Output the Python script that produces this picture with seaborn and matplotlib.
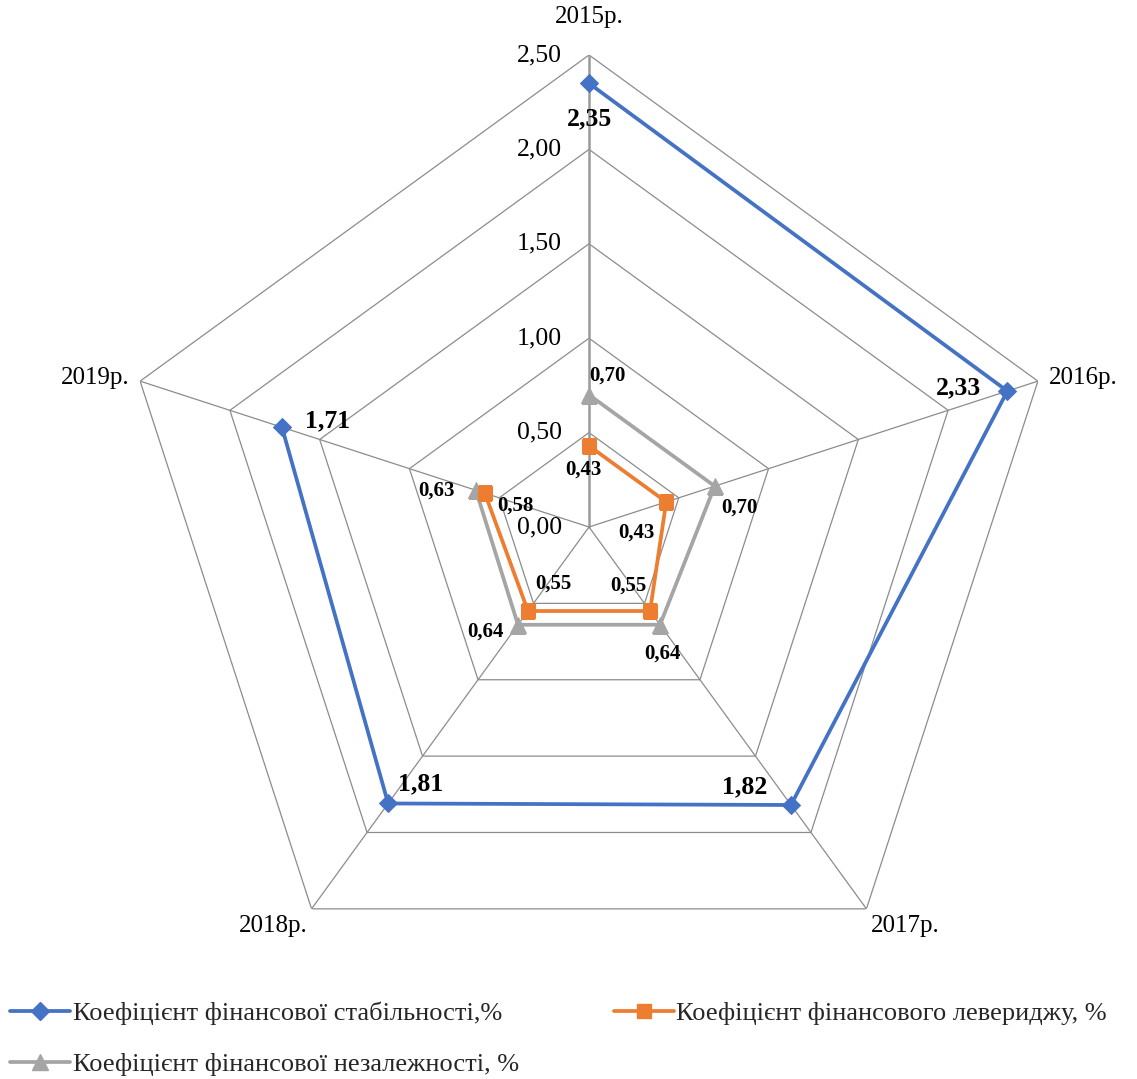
import numpy as np
import pandas as pd
import matplotlib
matplotlib.use("Agg")
import matplotlib.pyplot as plt
from matplotlib.lines import Line2D
import seaborn as sns

# ---- data -------------------------------------------------------------
years = ["2015р.", "2016р.", "2017р.", "2018р.", "2019р."]
stability = [2.35, 2.33, 1.82, 1.81, 1.71]
leverage = [0.43, 0.43, 0.55, 0.55, 0.58]
independence = [0.70, 0.70, 0.64, 0.64, 0.63]
series_names = [
    "Коефіцієнт фінансової стабільності,%",
    "Коефіцієнт фінансового левериджу, %",
    "Коефіцієнт фінансової незалежності, %",
]
r_ticks = [0.0, 0.5, 1.0, 1.5, 2.0, 2.5]
r_tick_labels = ["0,00", "0,50", "1,00", "1,50", "2,00", "2,50"]

sns.set_theme(style="white")
plt.rcParams["font.family"] = ["Liberation Serif", "DejaVu Serif"]

BLUE, ORANGE, GRAY = "#4472C4", "#ED7D31", "#A5A5A5"
GRID = "#8C8C8C"

fig = plt.figure(figsize=(11.37, 10.79), dpi=100)
ax = fig.add_axes([117 / 1137, 80 / 1079, 944 / 1137, 944 / 1079], projection="polar")
ax.set_theta_offset(np.pi / 2)
ax.set_theta_direction(-1)
ax.set_ylim(0, 2.5)
ax.grid(False)
ax.set_xticks([])
ax.set_yticks([])
ax.spines["polar"].set_visible(False)
ax.patch.set_alpha(0)

n = len(years)
theta = np.linspace(0, 2 * np.pi, n, endpoint=False)
theta_closed = np.append(theta, theta[0])

# polygon grid and spokes
for r in r_ticks[1:]:
    ax.plot(theta_closed, [r] * (n + 1), color=GRID, lw=0.9, zorder=1)
for i, t in enumerate(theta):
    ax.plot([t, t], [0, 2.5], color=GRID if i else "#9A9A9A",
            lw=0.9 if i else 1.8, zorder=1)

# radial tick labels along the top spoke
for r, lab in zip(r_ticks, r_tick_labels):
    ax.annotate(lab, (0, r), xytext=(-27, 0), textcoords="offset pixels",
                ha="right", va="center", fontsize=18.5, color="black")

# category labels
cat_pos = [
    (2.70, "center", "center"),
    (2.56, "left", "center"),
    (2.54, "left", "top"),
    (2.54, "right", "top"),
    (2.56, "right", "center"),
]
for t, lab, (r, ha, va) in zip(theta, years, cat_pos):
    ax.text(t, r, lab, ha=ha, va=va, fontsize=18, color="black")

# series
long_df = pd.DataFrame({
    "theta": np.tile(theta_closed, 3),
    "value": np.concatenate([
        np.append(independence, independence[0]),
        np.append(leverage, leverage[0]),
        np.append(stability, stability[0]),
    ]),
    "series": np.repeat([series_names[2], series_names[1], series_names[0]], n + 1),
})
styles = {
    series_names[2]: (GRAY, "^", 11),
    series_names[1]: (ORANGE, "s", 10),
    series_names[0]: (BLUE, "D", 9),
}
for z, (name, (col, mk, ms)) in enumerate(styles.items()):
    sub = long_df[long_df["series"] == name]
    sns.lineplot(data=sub, x="theta", y="value", sort=False, ax=ax, color=col,
                 lw=2.7, marker=mk, markersize=ms, markeredgecolor=col,
                 legend=False, zorder=3 + z)
ax.set_xlabel("")
ax.set_ylabel("")
ax.set_xticks([])
ax.set_yticks([])
ax.set_ylim(0, 2.5)

# data labels (offsets in pixels)
big_off = [(0, -35), (-49, 3), (-46, 18), (32, 20), (46, 6)]
lev_off = [(-6, -24), (-30, -31), (-22, 25), (25, 27), (31, -12)]
ind_off = [(18, 19), (25, -21), (2, -29), (-33, -7), (-39, 0)]
for vals, offs, size in [(stability, big_off, 18.5), (leverage, lev_off, 15),
                         (independence, ind_off, 15)]:
    for t, v, (dx, dy) in zip(theta, vals, offs):
        ax.annotate(f"{v:.2f}".replace(".", ","), (t, v), xytext=(dx, dy),
                    textcoords="offset pixels", ha="center", va="center",
                    fontsize=size, fontweight="bold", color="black", zorder=10)

# legend
handles = [
    Line2D([], [], color=BLUE, lw=2.7, marker="D", markersize=9),
    Line2D([], [], color=GRAY, lw=2.7, marker="^", markersize=11),
    Line2D([], [], color=ORANGE, lw=2.7, marker="s", markersize=10),
]
labels = [series_names[0], series_names[2], series_names[1]]
fig.legend(handles, labels, loc="lower left", bbox_to_anchor=(-0.005, -0.012),
           ncol=2, frameon=False, fontsize=19, handlelength=2.27,
           handletextpad=0.1, columnspacing=3.6, labelspacing=1.05,
           borderaxespad=0.2)

fig.savefig("out.png", dpi=100, facecolor="white")
